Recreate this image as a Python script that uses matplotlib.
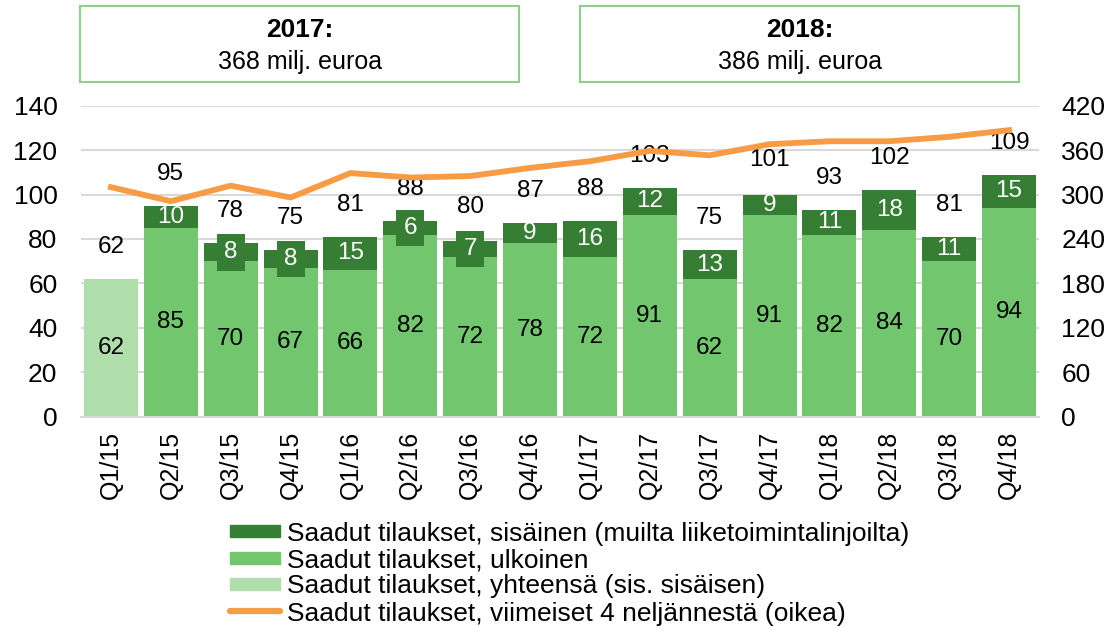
import numpy as np
import matplotlib.pyplot as plt
from matplotlib.patches import Rectangle
from matplotlib.lines import Line2D

plt.rcParams['font.family'] = ['Liberation Sans', 'DejaVu Sans']

quarters = ['Q1/15', 'Q2/15', 'Q3/15', 'Q4/15', 'Q1/16', 'Q2/16', 'Q3/16', 'Q4/16',
            'Q1/17', 'Q2/17', 'Q3/17', 'Q4/17', 'Q1/18', 'Q2/18', 'Q3/18', 'Q4/18']
# Q1/15 only has a total (no split)
total_only = [62, 0, 0, 0, 0, 0, 0, 0, 0, 0, 0, 0, 0, 0, 0, 0]
external = [0, 85, 70, 67, 66, 82, 72, 78, 72, 91, 62, 91, 82, 84, 70, 94]
internal = [0, 10, 8, 8, 15, 6, 7, 9, 16, 12, 13, 9, 11, 18, 11, 15]
totals = [62, 95, 78, 75, 81, 88, 80, 87, 88, 103, 75, 101, 93, 102, 81, 109]
rolling4 = [310, 291, 312, 296, 329, 323, 325, 336, 345, 359, 353, 368, 372, 372, 378, 387]

legend_labels = ['Saadut tilaukset, sisäinen (muilta liiketoimintalinjoilta)',
                 'Saadut tilaukset, ulkoinen',
                 'Saadut tilaukset, yhteensä (sis. sisäisen)',
                 'Saadut tilaukset, viimeiset 4 neljännestä (oikea)']
boxes = [('2017:', '368 milj. euroa'), ('2018:', '386 milj. euroa')]

c_dark = '#367E34'
c_mid = '#72C66E'
c_light = '#B0DEAA'
c_orange = '#F89B45'
fs = 17.5
W, H = 1108, 626

fig = plt.figure(figsize=(W / 100, H / 100), dpi=100)
ax = fig.add_axes([81 / W, 1 - 416.7 / H, 958 / W, 311 / H])
ax2 = ax.twinx()

x = np.arange(len(quarters))
w = 0.9
ax.bar(x, total_only, w, color=c_light, zorder=2)
ax.bar(x, external, w, color=c_mid, zorder=2)
ax.bar(x, internal, w, bottom=external, color=c_dark, zorder=2)

ax.set_ylim(0, 140)
ax.set_yticks(range(0, 141, 20))
ax.set_xlim(-0.5, len(quarters) - 0.5)
ax.set_xticks(x)
ax.set_xticklabels(quarters, rotation=90, fontsize=18)
ax.tick_params(axis='both', length=0)
ax.tick_params(axis='y', labelsize=19, pad=17)
ax.tick_params(axis='x', pad=10)
ax.grid(axis='y', color='#D9D9D9', linewidth=1.5, zorder=0)
ax.set_axisbelow(True)
for s in ax.spines.values():
    s.set_visible(False)
ax.spines['bottom'].set_visible(True)
ax.spines['bottom'].set_color('#D9D9D9')
ax.spines['bottom'].set_linewidth(1.5)

ax2.plot(x, rolling4, color=c_orange, linewidth=4.2, zorder=5)
ax2.set_ylim(0, 420)
ax2.set_yticks(range(0, 421, 60))
ax2.tick_params(axis='y', length=0, labelsize=19, pad=16)
for s in ax2.spines.values():
    s.set_visible(False)

# data labels
for i in range(len(quarters)):
    if total_only[i]:
        ax.text(i, total_only[i] / 2, str(total_only[i]), ha='center', va='center', fontsize=fs, zorder=6)
    else:
        ax.text(i, external[i] / 2, str(external[i]), ha='center', va='center', fontsize=fs, zorder=6)
        bb = None
        if internal[i] < 9:
            bb = dict(boxstyle='square,pad=0.3', facecolor=c_dark, edgecolor='none')
        ax.text(i, external[i] + internal[i] / 2, str(internal[i]), ha='center', va='center',
                fontsize=fs, color='white', bbox=bb, zorder=6)
    ax.annotate(str(totals[i]), (i, totals[i]), xytext=(0, 23), textcoords='offset points',
                ha='center', va='center', fontsize=fs, zorder=6)

# year boxes
for (head, sub), x0 in zip(boxes, [80, 580]):
    fig.patches.append(Rectangle((x0 / W, 1 - 82 / H), 439 / W, 76 / H,
                                 transform=fig.transFigure, fill=False,
                                 edgecolor='#8ED08A', linewidth=1.5))
    cx = (x0 + 220) / W
    fig.text(cx, 1 - 30 / H, head, ha='center', va='center', fontsize=19, fontweight='bold')
    fig.text(cx, 1 - 62 / H, sub, ha='center', va='center', fontsize=18)

# legend, drawn by hand to get the tight row spacing
row_y = [531, 558, 584, 611]
for k, (lab, yy) in enumerate(zip(legend_labels, row_y)):
    if k < 3:
        col = [c_dark, c_mid, c_light][k]
        fig.patches.append(Rectangle((230 / W, 1 - (yy + 6) / H), 50 / W, 12 / H,
                                     transform=fig.transFigure, color=col))
    else:
        fig.lines.append(Line2D([230 / W, 280 / W], [1 - yy / H, 1 - yy / H],
                                transform=fig.transFigure, color=c_orange,
                                linewidth=4.5, solid_capstyle='round'))
    fig.text(287 / W, 1 - (yy + 9.5) / H, lab, ha='left', va='baseline', fontsize=19)

fig.savefig('out.png', dpi=100)
